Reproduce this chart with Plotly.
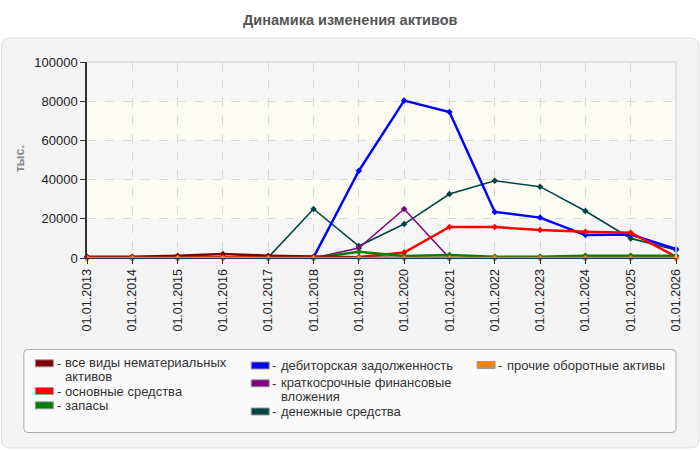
import plotly.graph_objects as go

# ---------------- data ----------------
dates = ["01.01.2013", "01.01.2014", "01.01.2015", "01.01.2016", "01.01.2017",
         "01.01.2018", "01.01.2019", "01.01.2020", "01.01.2021", "01.01.2022",
         "01.01.2023", "01.01.2024", "01.01.2025", "01.01.2026"]

nematerialnye = [700, 700, 1200, 2100, 1200, 700, 300, 0, 0, 0, 0, 0, 0, 0]
osnovnye = [200, 200, 200, 200, 200, 200, 500, 2800, 15800, 15800, 14300, 13400, 12900, 700]
zapasy = [0, 0, 0, 0, 0, 0, 3200, 1000, 1500, 700, 700, 1100, 1100, 1100]
debitorskaya = [300, 300, 300, 300, 300, 300, 44500, 80300, 74500, 23500, 20600, 11700, 12000, 4600]
kratkosrochnye = [0, 0, 0, 0, 0, 0, 5100, 25000, 0, None, None, None, None, None]
denezhnye = [300, 300, 300, 300, 300, 25000, 6100, 17300, 32600, 39400, 36400, 24000, 10000, 4100]
prochie = [0, 0, 0, 0, 0, 0, 0, 0, 0, 0, 0, 0, 0, 0]

series_names = ["все виды нематериальных\nактивов", "основные средства", "запасы",
                "дебиторская задолженность", "краткосрочные финансовые\nвложения",
                "денежные средства", "прочие оборотные активы"]
series_values = [nematerialnye, osnovnye, zapasy, debitorskaya, kratkosrochnye, denezhnye, prochie]
series_colors = ["#800000", "#ff0000", "#008000", "#0000ff", "#800080", "#004444", "#ff8000"]
series_widths = [2.5, 2.5, 2.5, 2.5, 1.5, 1.6, 2.5]

y_ticks = [0, 20000, 40000, 60000, 80000, 100000]

# ---------------- layout geometry (pixels) ----------------
FIG_W, FIG_H = 700, 450
PL, PR, PT, PB = 86.7, 676, 62, 258
PW, PH = PR - PL, PB - PT


def xp(px):
    return (px - PL) / PW


def yp(py):
    return (PB - py) / PH


def rounded_rect(x0, y0, x1, y1, r):
    return (f"M {xp(x0 + r)} {yp(y0)} L {xp(x1 - r)} {yp(y0)} "
            f"Q {xp(x1)} {yp(y0)} {xp(x1)} {yp(y0 + r)} "
            f"L {xp(x1)} {yp(y1 - r)} Q {xp(x1)} {yp(y1)} {xp(x1 - r)} {yp(y1)} "
            f"L {xp(x0 + r)} {yp(y1)} Q {xp(x0)} {yp(y1)} {xp(x0)} {yp(y1 - r)} "
            f"L {xp(x0)} {yp(y0 + r)} Q {xp(x0)} {yp(y0)} {xp(x0 + r)} {yp(y0)} Z")


FONT = "Liberation Sans, Arial, sans-serif"

fig = go.Figure()

xs = list(range(len(dates)))
draw_order = [5, 3, 4, 1, 2, 0, 6]
for i in draw_order:
    fig.add_trace(go.Scatter(
        x=xs, y=series_values[i], mode="lines+markers",
        name=series_names[i].replace("\n", " "),
        line=dict(color=series_colors[i], width=series_widths[i]),
        marker=dict(symbol="diamond", size=5, color=series_colors[i]),
        cliponaxis=False, showlegend=False, connectgaps=False,
    ))

shapes = []
# outer panel
shapes.append(dict(type="path", xref="paper", yref="paper", layer="below",
                   path=rounded_rect(1, 38, 699, 448, 9),
                   fillcolor="#f4f4f4", line=dict(color="#dedede", width=1)))
# plot bands
band_colors = ["#f6f6f6", "#fcfcf5"]
for k in range(len(y_ticks) - 1):
    shapes.append(dict(type="rect", xref="x", yref="y", layer="below",
                       x0=0, x1=len(dates) - 1, y0=y_ticks[k], y1=y_ticks[k + 1],
                       fillcolor=band_colors[k % 2], line=dict(width=0)))
# top and right plot border
shapes.append(dict(type="line", xref="paper", yref="paper", x0=0, x1=1, y0=1, y1=1,
                   line=dict(color="#dcdcdc", width=1.5)))
shapes.append(dict(type="line", xref="paper", yref="paper", x0=1, x1=1, y0=0, y1=1,
                   line=dict(color="#dcdcdc", width=1.5)))
# legend box
shapes.append(dict(type="path", xref="paper", yref="paper", layer="below",
                   path=rounded_rect(23.5, 349.5, 676, 432.5, 4),
                   fillcolor="#fafafa", line=dict(color="#aaaaaa", width=1)))

annotations = []
annotations.append(dict(text="<b>Динамика изменения активов</b>", xref="paper", yref="paper",
                        x=xp(350), y=yp(20), xanchor="center", yanchor="middle",
                        showarrow=False, font=dict(family=FONT, size=14.5, color="#555555")))
annotations.append(dict(text="<b>тыс.</b>", xref="paper", yref="paper",
                        x=xp(20), y=yp(159), xanchor="center", yanchor="middle", textangle=-90,
                        showarrow=False, font=dict(family=FONT, size=12.5, color="#888888")))

legend_pos = [(35, 363.3), (35, 391), (35, 405.3), (251, 365.5), (251, 383.3), (251, 411.5), (477, 365)]
SW_W, SW_H = 18, 7
for i, (sx, sy) in enumerate(legend_pos):
    shapes.append(dict(type="rect", xref="paper", yref="paper",
                       x0=xp(sx), x1=xp(sx + SW_W), y0=yp(sy - SW_H / 2), y1=yp(sy + SW_H / 2),
                       fillcolor=series_colors[i], line=dict(color="#999999", width=1)))
    annotations.append(dict(text="-", xref="paper", yref="paper",
                            x=xp(sx + SW_W + 1.2), y=yp(sy), xanchor="left", yanchor="middle",
                            showarrow=False, font=dict(family=FONT, size=13, color="#333333")))
    lines = series_names[i].split("\n")
    for j, line in enumerate(lines):
        off = 0 if len(lines) == 1 else (-1 + j * 14.3)
        annotations.append(dict(text=line, xref="paper", yref="paper",
                                x=xp(sx + SW_W + 9.5), y=yp(sy + off), xanchor="left", yanchor="middle",
                                showarrow=False, font=dict(family=FONT, size=13, color="#333333")))

fig.update_layout(
    width=FIG_W, height=FIG_H,
    margin=dict(l=PL, r=FIG_W - PR, t=PT, b=FIG_H - PB, pad=0),
    paper_bgcolor="#ffffff", plot_bgcolor="rgba(0,0,0,0)",
    showlegend=False,
    shapes=shapes, annotations=annotations,
    font=dict(family=FONT, size=12, color="#222222"),
    xaxis=dict(range=[0, len(dates) - 1], tickmode="array", tickvals=xs, ticktext=dates,
               tickangle=-90, ticks="outside", ticklen=5, tickcolor="#333333",
               showline=True, linecolor="#333333", linewidth=1,
               showgrid=True, gridcolor="#d9d9d9", griddash="dash", gridwidth=1,
               zeroline=False, tickfont=dict(family=FONT, size=12.5, color="#222222")),
    yaxis=dict(range=[0, 100000], tickmode="array", tickvals=y_ticks,
               ticktext=[str(v) for v in y_ticks],
               ticks="outside", ticklen=5, tickcolor="#333333",
               showline=True, linecolor="#333333", linewidth=1.5,
               showgrid=True, gridcolor="#d9d9d9", griddash="dash", gridwidth=1,
               zeroline=False, tickfont=dict(family=FONT, size=13, color="#222222")),
)

fig.write_html("out.html")
